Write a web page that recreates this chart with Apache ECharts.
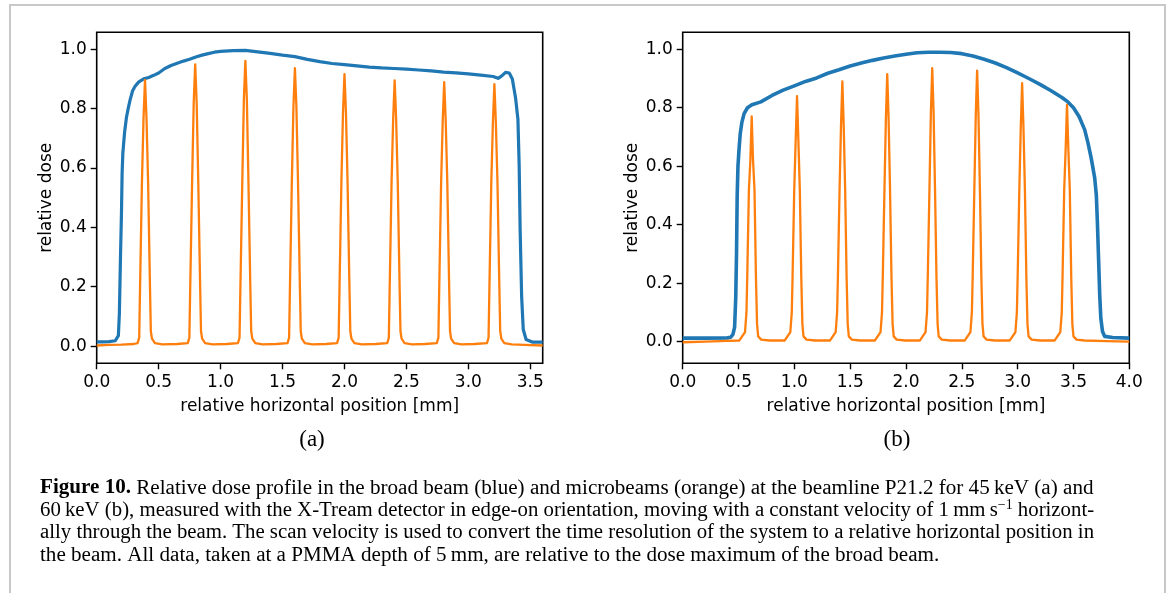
<!DOCTYPE html>
<html>
<head>
<meta charset="utf-8">
<script src="https://cdn.jsdelivr.net/npm/echarts@6/dist/echarts.min.js"></script>
<style>
  html, body { margin: 0; padding: 0; background: #fff; }
  #chart { width: 1168px; height: 593px; }
</style>
</head>
<body>
<div id="chart"></div>
<script>
// Panel (a): 45 keV, broad beam profile (blue) as [position mm, relative dose]
const broadA = [
  [0,0.014],[0.05,0.014],[0.1,0.015],[0.15,0.018],[0.165,0.021],[0.175,0.035],[0.183,0.11],
  [0.192,0.3],[0.2,0.45],[0.205,0.58],[0.211,0.65],[0.225,0.72],[0.24,0.77],[0.254,0.8],
  [0.27,0.83],[0.29,0.86],[0.31,0.875],[0.34,0.89],[0.38,0.9],[0.42,0.905],[0.46,0.912],
  [0.5,0.92],[0.55,0.935],[0.6,0.945],[0.65,0.953],[0.7,0.96],[0.75,0.966],[0.8,0.974],
  [0.85,0.98],[0.9,0.985],[0.95,0.99],[1.0,0.993],[1.1,0.995],[1.2,0.996],[1.3,0.991],
  [1.4,0.986],[1.5,0.98],[1.6,0.975],[1.7,0.966],[1.8,0.958],[1.9,0.952],[2.0,0.948],
  [2.1,0.944],[2.2,0.94],[2.3,0.937],[2.4,0.935],[2.5,0.933],[2.6,0.93],[2.7,0.927],
  [2.8,0.923],[2.9,0.92],[3.0,0.917],[3.1,0.913],[3.2,0.908],[3.24,0.902],[3.27,0.91],
  [3.3,0.922],[3.33,0.92],[3.355,0.9],[3.381,0.836],[3.4,0.764],[3.41,0.61],[3.418,0.39],
  [3.43,0.167],[3.443,0.056],[3.466,0.022],[3.52,0.013],[3.6,0.013]
];

// Panel (a): microbeam profile (orange)
const microA = [
  [0,0.002],[0.1,0.004],[0.2,0.005],[0.3,0.007],
  [0.33,0.01],[0.343,0.028],[0.35,0.2],[0.365,0.55],[0.378,0.767],[0.39,0.897],[0.402,0.767],[0.415,0.55],[0.43,0.2],[0.437,0.05],[0.446,0.025],[0.47,0.01],[0.53,0.006],
  [0.65,0.007],
  [0.735,0.01],[0.748,0.028],[0.755,0.2],[0.77,0.55],[0.783,0.819],[0.795,0.949],[0.807,0.819],[0.82,0.55],[0.835,0.2],[0.842,0.05],[0.851,0.025],[0.875,0.01],[0.935,0.006],
  [1.05,0.007],
  [1.14,0.01],[1.153,0.028],[1.16,0.2],[1.175,0.55],[1.188,0.831],[1.2,0.961],[1.212,0.831],[1.225,0.55],[1.24,0.2],[1.247,0.05],[1.256,0.025],[1.28,0.01],[1.34,0.006],
  [1.45,0.007],
  [1.54,0.01],[1.553,0.028],[1.56,0.2],[1.575,0.55],[1.588,0.806],[1.6,0.936],[1.612,0.806],[1.625,0.55],[1.64,0.2],[1.647,0.05],[1.656,0.025],[1.68,0.01],[1.74,0.006],
  [1.85,0.007],
  [1.94,0.01],[1.953,0.028],[1.96,0.2],[1.975,0.55],[1.988,0.786],[2.0,0.916],[2.012,0.786],[2.025,0.55],[2.04,0.2],[2.047,0.05],[2.056,0.025],[2.08,0.01],[2.14,0.006],
  [2.25,0.007],
  [2.345,0.01],[2.358,0.028],[2.365,0.2],[2.38,0.55],[2.393,0.765],[2.405,0.895],[2.417,0.765],[2.43,0.55],[2.445,0.2],[2.452,0.05],[2.461,0.025],[2.485,0.01],[2.545,0.006],
  [2.65,0.007],
  [2.745,0.01],[2.758,0.028],[2.765,0.2],[2.78,0.55],[2.793,0.759],[2.805,0.889],[2.817,0.759],[2.83,0.55],[2.845,0.2],[2.852,0.05],[2.861,0.025],[2.885,0.01],[2.945,0.006],
  [3.05,0.007],
  [3.15,0.01],[3.163,0.028],[3.17,0.2],[3.185,0.55],[3.198,0.752],[3.21,0.882],[3.222,0.752],[3.235,0.55],[3.25,0.2],[3.257,0.05],[3.266,0.025],[3.29,0.01],[3.35,0.006],
  [3.45,0.004],[3.6,0.002]
];

// Panel (b): 60 keV, broad beam profile (blue)
const broadB = [
  [0,0.012],[0.2,0.012],[0.4,0.013],[0.43,0.015],[0.45,0.025],[0.465,0.05],[0.475,0.15],
  [0.482,0.3],[0.488,0.5],[0.495,0.6],[0.505,0.66],[0.515,0.71],[0.53,0.75],[0.55,0.78],
  [0.58,0.8],[0.62,0.81],[0.7,0.82],[0.8,0.842],[0.9,0.86],[1.0,0.875],[1.1,0.89],
  [1.2,0.902],[1.3,0.918],[1.4,0.93],[1.5,0.943],[1.6,0.953],[1.7,0.962],[1.8,0.97],
  [1.9,0.977],[2.0,0.983],[2.1,0.988],[2.2,0.99],[2.3,0.99],[2.4,0.989],[2.5,0.985],
  [2.6,0.977],[2.7,0.966],[2.8,0.953],[2.9,0.937],[3.0,0.919],[3.1,0.9],[3.2,0.88],
  [3.3,0.858],[3.4,0.834],[3.45,0.82],[3.5,0.8],[3.55,0.77],[3.6,0.725],[3.63,0.68],
  [3.66,0.625],[3.69,0.56],[3.705,0.5],[3.715,0.4],[3.725,0.28],[3.735,0.16],[3.745,0.08],
  [3.76,0.035],[3.78,0.018],[3.85,0.014],[4.0,0.012]
];

// Panel (b): microbeam profile (orange)
const microB = [
  [0,-0.002],[0.2,0.0],[0.4,0.003],
  [0.508,0.004],[0.558,0.033],[0.571,0.1],[0.578,0.22],[0.593,0.52],[0.606,0.62],[0.618,0.77],[0.63,0.62],[0.643,0.52],[0.656,0.22],[0.666,0.06],[0.676,0.018],[0.703,0.007],[0.778,0.004],
  [0.914,0.004],[0.964,0.033],[0.977,0.1],[0.984,0.22],[0.999,0.52],[1.012,0.69],[1.024,0.84],[1.036,0.69],[1.049,0.52],[1.062,0.22],[1.072,0.06],[1.082,0.018],[1.109,0.007],[1.184,0.004],
  [1.32,0.004],[1.37,0.033],[1.383,0.1],[1.39,0.22],[1.405,0.52],[1.418,0.74],[1.43,0.89],[1.442,0.74],[1.455,0.52],[1.468,0.22],[1.478,0.06],[1.488,0.018],[1.515,0.007],[1.59,0.004],
  [1.722,0.004],[1.772,0.033],[1.785,0.1],[1.792,0.22],[1.807,0.52],[1.82,0.765],[1.832,0.915],[1.844,0.765],[1.857,0.52],[1.87,0.22],[1.88,0.06],[1.89,0.018],[1.917,0.007],[1.992,0.004],
  [2.125,0.004],[2.175,0.033],[2.188,0.1],[2.195,0.22],[2.21,0.52],[2.223,0.785],[2.235,0.935],[2.247,0.785],[2.26,0.52],[2.273,0.22],[2.283,0.06],[2.293,0.018],[2.32,0.007],[2.395,0.004],
  [2.527,0.004],[2.577,0.033],[2.59,0.1],[2.597,0.22],[2.612,0.52],[2.625,0.777],[2.637,0.927],[2.649,0.777],[2.662,0.52],[2.675,0.22],[2.685,0.06],[2.695,0.018],[2.722,0.007],[2.797,0.004],
  [2.93,0.004],[2.98,0.033],[2.993,0.1],[3.0,0.22],[3.015,0.52],[3.028,0.734],[3.04,0.884],[3.052,0.734],[3.065,0.52],[3.078,0.22],[3.088,0.06],[3.098,0.018],[3.125,0.007],[3.2,0.004],
  [3.332,0.004],[3.382,0.033],[3.395,0.1],[3.402,0.22],[3.417,0.52],[3.43,0.66],[3.442,0.81],[3.454,0.66],[3.467,0.52],[3.48,0.22],[3.49,0.06],[3.5,0.018],[3.527,0.007],[3.6,0.004],
  [3.8,0.002],[4.0,0.0]
];

// Tick positions
const xTicksA = [0, 0.5, 1.0, 1.5, 2.0, 2.5, 3.0, 3.5];
const xTicksB = [0, 0.5, 1.0, 1.5, 2.0, 2.5, 3.0, 3.5, 4.0];
const yTicks = [0, 0.2, 0.4, 0.6, 0.8, 1.0];

const xName = 'relative horizontal position [mm]';
const yName = 'relative dose';
const panelLabels = ['(a)', '(b)'];
const captionLines = [
  '{b|Figure 10.} Relative dose profile in the broad beam (blue) and microbeams (orange) at the beamline P21.2 for 45\u2009keV (a) and',
  '60\u2009keV (b), measured with the X-Tream detector in edge-on orientation, moving with a constant velocity of 1\u2009mm\u2009s{s|\u22121} horizont-',
  'ally through the beam. The scan velocity is used to convert the time resolution of the system to a relative horizontal position in',
  'the beam. All data, taken at a PMMA depth of 5\u2009mm, are relative to the dose maximum of the broad beam.'
];

const BLUE = '#1f77b4';
const ORANGE = '#ff7f0e';
const SANS = 'DejaVu Sans';
const SERIF = 'Liberation Serif';
// per-line caption size so the full lines end on the same right margin
const capSizes = [21.1, 20.8, 20.8, 21.1];

function xAxisCfg(idx, max, ticks) {
  return {
    gridIndex: idx, type: 'value', min: 0, max: max,
    axisLine: { show: false, onZero: false },
    splitLine: { show: false },
    axisTick: { show: true, customValues: ticks, length: 6, inside: false,
      lineStyle: { color: '#000', width: 1.4 } },
    axisLabel: { customValues: ticks, formatter: v => v.toFixed(1), fontSize: 17,
      fontFamily: SANS, color: '#000', margin: 11 },
    name: xName, nameLocation: 'middle', nameGap: 35,
    nameTextStyle: { fontSize: 17, fontFamily: SANS, color: '#000' }
  };
}
function yAxisCfg(idx, min, max) {
  return {
    gridIndex: idx, type: 'value', min: min, max: max,
    axisLine: { show: false, onZero: false },
    splitLine: { show: false },
    axisTick: { show: true, customValues: yTicks, length: 6,
      lineStyle: { color: '#000', width: 1.4 } },
    axisLabel: { customValues: yTicks, formatter: v => v.toFixed(1), fontSize: 17,
      fontFamily: SANS, color: '#000', margin: 10 },
    name: yName, nameLocation: 'middle', nameGap: 42, nameRotate: 90,
    nameTextStyle: { fontSize: 17, fontFamily: SANS, color: '#000' }
  };
}
function lineSeries(idx, data, color, width) {
  return {
    type: 'line', xAxisIndex: idx, yAxisIndex: idx, data: data,
    showSymbol: false, symbol: 'none', smooth: false,
    lineStyle: { color: color, width: width, join: 'round' },
    emphasis: { disabled: true }, silent: true
  };
}

const chart = echarts.init(document.getElementById('chart'), null, { renderer: 'canvas' });

const graphics = [
  { type: 'rect', shape: { x: 10, y: 5, width: 1155, height: 600 },
    style: { fill: 'none', stroke: '#c8c8c8', lineWidth: 2 }, silent: true },
  { type: 'text', x: 312, y: 440, style: { text: panelLabels[0], font: '23px "' + SERIF + '"',
    fill: '#000', textAlign: 'center', textVerticalAlign: 'middle' } },
  { type: 'text', x: 897, y: 440, style: { text: panelLabels[1], font: '23px "' + SERIF + '"',
    fill: '#000', textAlign: 'center', textVerticalAlign: 'middle' } }
];
const lineY = [488, 510.5, 533, 555.5];
captionLines.forEach((t, i) => {
  const sz = capSizes[i];
  graphics.push({
    type: 'text', x: 40, y: lineY[i],
    style: {
      text: t, fill: '#000', fontFamily: SERIF, fontSize: sz,
      textAlign: 'left', textVerticalAlign: 'middle',
      rich: {
        b: { fontFamily: SERIF, fontSize: sz, fontWeight: 'bold', fill: '#000', lineHeight: 24 },
        s: { fontFamily: SERIF, fontSize: 14, fill: '#000', verticalAlign: 'top', lineHeight: 24 }
      },
      lineHeight: 24
    }
  });
});

chart.setOption({
  animation: false,
  backgroundColor: '#fff',
  grid: [
    { left: 96.7, top: 32.3, width: 446, height: 331, show: true, borderColor: '#000', borderWidth: 1.6, backgroundColor: 'transparent' },
    { left: 682.7, top: 32.3, width: 446.6, height: 331, show: true, borderColor: '#000', borderWidth: 1.6, backgroundColor: 'transparent' }
  ],
  xAxis: [xAxisCfg(0, 3.6, xTicksA), xAxisCfg(1, 4.0, xTicksB)],
  yAxis: [yAxisCfg(0, -0.058, 1.057), yAxisCfg(1, -0.074, 1.058)],
  series: [
    lineSeries(0, broadA, BLUE, 3.2),
    lineSeries(0, microA, ORANGE, 2.3),
    lineSeries(1, broadB, BLUE, 3.6),
    lineSeries(1, microB, ORANGE, 2.3)
  ],
  graphic: graphics
});
</script>
</body>
</html>
